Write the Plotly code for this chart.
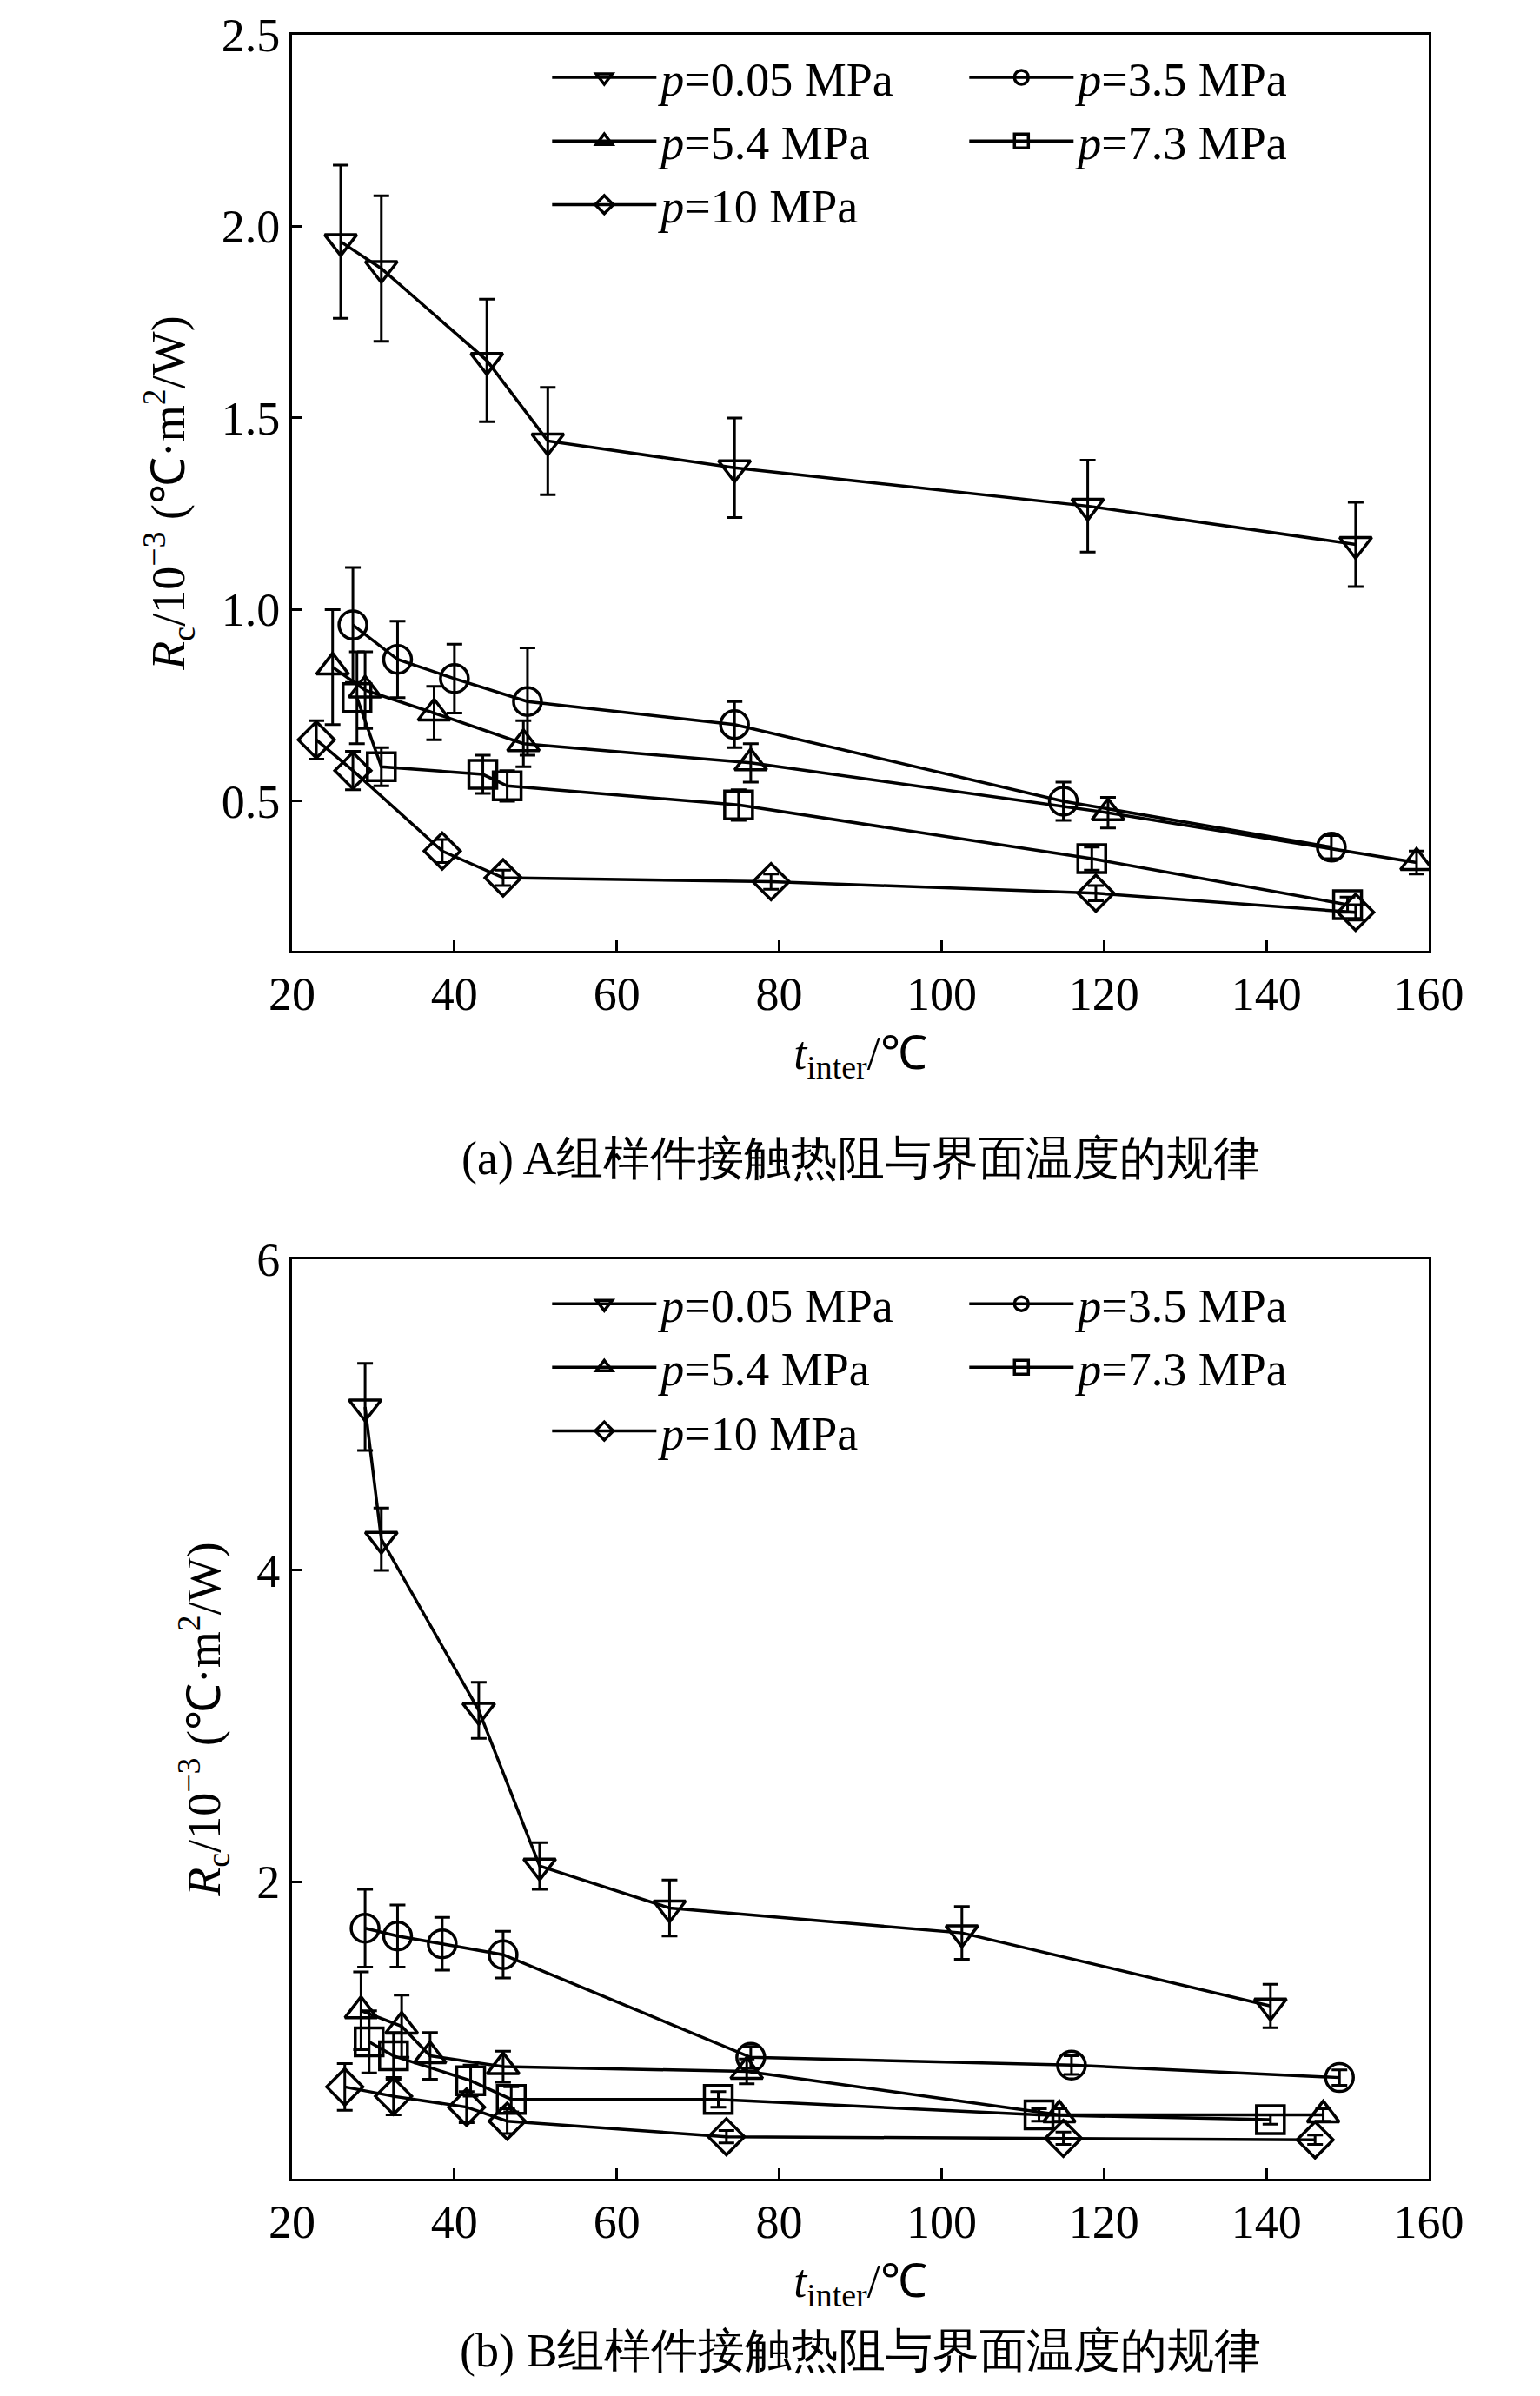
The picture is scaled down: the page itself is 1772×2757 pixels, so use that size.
import plotly.graph_objects as go
from plotly.subplots import make_subplots

labels = ["<i>p</i>=0.05 MPa", "<i>p</i>=3.5 MPa", "<i>p</i>=5.4 MPa", "<i>p</i>=7.3 MPa", "<i>p</i>=10 MPa"]
symbols = ["triangle-down-open", "circle-open", "triangle-up-open", "square-open", "diamond-open"]

# Panel A
a_x = [[26, 31, 44, 51.5, 74.5, 118, 151],
       [27.5, 33, 40, 49, 74.5, 115, 148],
       [25, 29, 37.5, 48.5, 76.5, 120.5, 158.5],
       [28, 31, 43.5, 46.5, 75, 118.5, 150],
       [23, 27.5, 38.5, 46, 79, 119, 151]]
a_y = [[1.96, 1.89, 1.65, 1.44, 1.37, 1.27, 1.17],
       [0.96, 0.87, 0.82, 0.76, 0.70, 0.50, 0.38],
       [0.85, 0.79, 0.73, 0.65, 0.60, 0.47, 0.34],
       [0.77, 0.59, 0.57, 0.54, 0.49, 0.35, 0.23],
       [0.66, 0.58, 0.37, 0.30, 0.29, 0.26, 0.21]]
a_e = [[0.2, 0.19, 0.16, 0.14, 0.13, 0.12, 0.11],
       [0.15, 0.1, 0.09, 0.14, 0.06, 0.05, 0.03],
       [0.15, 0.1, 0.07, 0.06, 0.05, 0.04, 0.03],
       [0.12, 0.05, 0.05, 0.04, 0.04, 0.03, 0.02],
       [0.05, 0.05, 0.03, 0.02, 0.02, 0.02, 0.02]]
# Panel B
b_x = [[29, 31, 43, 50.5, 66.5, 102.5, 140.5],
       [29, 33, 38.5, 46, 76.5, 116, 149],
       [28.5, 33.5, 37, 46, 76, 114.5, 147],
       [29.5, 32.5, 42, 47, 72.5, 112, 140.5],
       [26.5, 32.5, 41.5, 46.5, 73.5, 115, 146]]
b_y = [[5.05, 4.2, 3.1, 2.1, 1.83, 1.67, 1.2],
       [1.7, 1.65, 1.6, 1.53, 0.87, 0.82, 0.74],
       [1.17, 1.07, 0.88, 0.81, 0.78, 0.5, 0.5],
       [0.97, 0.88, 0.72, 0.6, 0.6, 0.5, 0.47],
       [0.68, 0.62, 0.55, 0.46, 0.36, 0.35, 0.34]]
b_e = [[0.28, 0.2, 0.18, 0.15, 0.18, 0.17, 0.14],
       [0.25, 0.2, 0.17, 0.15, 0.07, 0.06, 0.05],
       [0.25, 0.2, 0.15, 0.1, 0.08, 0.04, 0.04],
       [0.2, 0.15, 0.1, 0.08, 0.05, 0.04, 0.03],
       [0.15, 0.12, 0.1, 0.08, 0.04, 0.04, 0.03]]

F = "Liberation Serif"
fig = make_subplots(rows=2, cols=1, vertical_spacing=0.1439)
fig.update_yaxes(domain=[0.5728, 1], row=1, col=1)
fig.update_yaxes(domain=[0, 0.4289], row=2, col=1)

for row, (X, Y, E, lg) in enumerate([(a_x, a_y, a_e, "legend"), (b_x, b_y, b_e, "legend2")], start=1):
    for i in range(5):
        fig.add_trace(go.Scatter(
            x=X[i], y=Y[i], name=labels[i], mode="lines+markers", legend=lg,
            line=dict(color="black", width=3.5),
            marker=dict(symbol=symbols[i], size=32, color="black", line=dict(width=3.5, color="black")),
            error_y=dict(type="data", array=E[i], color="black", thickness=3, width=9),
        ), row=row, col=1)

ax = dict(showline=True, mirror=True, linecolor="black", linewidth=3, ticks="inside",
          ticklen=12, tickwidth=3, tickcolor="black", showgrid=False, zeroline=False,
          automargin=False, tickfont=dict(family=F, size=54, color="black"))
xt = "<i>t</i><sub>inter</sub>/℃"
yt = "<i>R</i><sub>c</sub>/10<sup>−3</sup> (℃·m<sup>2</sup>/W)"
for r in (1, 2):
    fig.update_xaxes(ax, range=[20, 160], dtick=20, title=dict(text=xt, font=dict(family=F, size=54), standoff=20), row=r, col=1)
fig.update_yaxes(ax, range=[0.11, 2.5], tickvals=[0.5, 1.0, 1.5, 2.0, 2.5], tickformat=".1f",
                 title=dict(text=yt, font=dict(family=F, size=54), standoff=25), row=1, col=1)
fig.update_yaxes(ax, range=[0.09, 6], tickvals=[2, 4, 6],
                 title=dict(text=yt, font=dict(family=F, size=54), standoff=25), row=2, col=1)

leg = dict(orientation="h", xanchor="left", yanchor="top", bgcolor="rgba(0,0,0,0)",
           font=dict(family=F, size=54, color="black"), entrywidth=345, entrywidthmode="pixels",
           itemwidth=120, tracegroupgap=0)
fig.update_layout(
    width=1772, height=2757, plot_bgcolor="white", paper_bgcolor="white",
    margin=dict(l=328, r=136, t=32, b=258, autoexpand=False),
    legend=dict(leg, x=0.225, y=0.997),
    legend2=dict(leg, x=0.225, y=0.425),
    font=dict(family=F, color="black"),
    annotations=[
        dict(text="(a) A组样件接触热阻与界面温度的规律", x=0.5, y=0.5728, xref="paper", yref="paper",
             yshift=-239, showarrow=False, font=dict(family=F, size=54)),
        dict(text="(b) B组样件接触热阻与界面温度的规律", x=0.5, y=0, xref="paper", yref="paper",
             yshift=-230, showarrow=False, font=dict(family=F, size=54)),
    ],
)
fig.write_html("out.html")
